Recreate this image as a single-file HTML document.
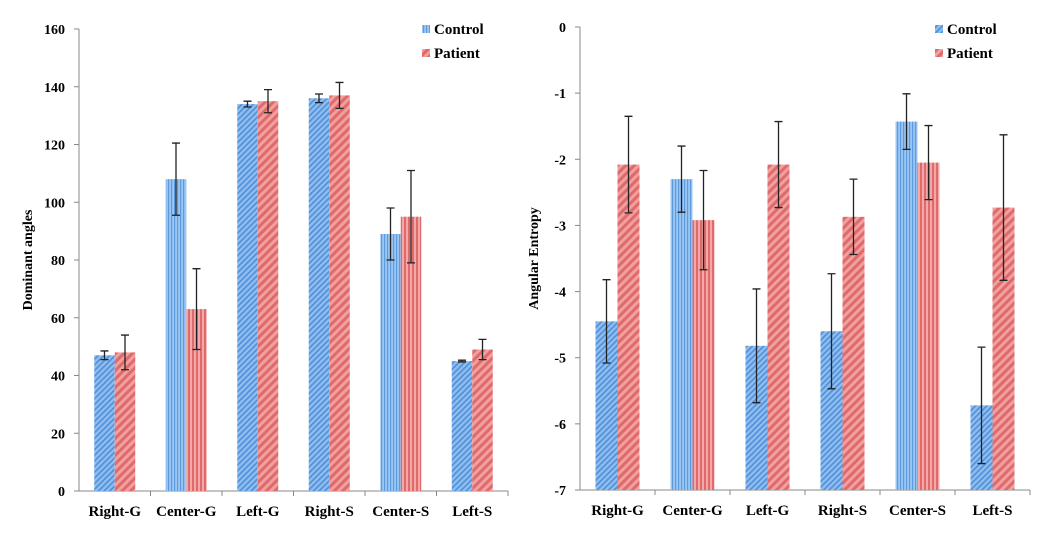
<!DOCTYPE html>
<html><head><meta charset="utf-8"><style>
html,body{margin:0;padding:0;background:#fff;}
svg{display:block;font-family:"Liberation Serif",serif;font-weight:bold;}
</style></head><body>
<svg id="c" width="1040" height="539">
<defs>
<pattern id="bd" width="4" height="4" patternUnits="userSpaceOnUse" patternTransform="rotate(45)"><rect width="4" height="4" fill="#8fbdf0"/><rect width="1.6" height="4" fill="#4f8fd8"/></pattern>
<pattern id="bv" width="3" height="4" patternUnits="userSpaceOnUse"><rect width="3" height="4" fill="#9cc6f2"/><rect width="1.2" height="4" fill="#5d9be0"/></pattern>
<pattern id="rd" width="6" height="6" patternUnits="userSpaceOnUse" patternTransform="rotate(45)"><rect width="6" height="6" fill="#f0a0a0"/><rect width="3" height="6" fill="#e06a6a"/></pattern>
<pattern id="rv" width="4" height="4" patternUnits="userSpaceOnUse"><rect width="4" height="4" fill="#f2a8a8"/><rect width="2" height="4" fill="#e06a6a"/></pattern>
</defs>
</svg>
<script>
const categories=["Right-G","Center-G","Left-G","Right-S","Center-S","Left-S"];
const leftControl=[47,108,134,136,89,45];
const leftControlErr=[1.5,12.5,1,1.5,9,0.3];
const leftPatient=[48,63,135,137,95,49];
const leftPatientErr=[6,14,4,4.5,16,3.5];
const leftTicks=[0,20,40,60,80,100,120,140,160];
const rightControl=[-4.45,-2.3,-4.82,-4.6,-1.43,-5.72];
const rightControlErr=[0.63,0.5,0.86,0.87,0.42,0.88];
const rightPatient=[-2.08,-2.92,-2.08,-2.87,-2.05,-2.73];
const rightPatientErr=[0.73,0.75,0.65,0.57,0.56,1.1];
const rightTicks=[0,-1,-2,-3,-4,-5,-6,-7];
const svg=document.getElementById('c');
const NS='http://www.w3.org/2000/svg';
function mk(tag,attrs,parent){const e=document.createElementNS(NS,tag);for(const k in attrs)e.setAttribute(k,attrs[k]);(parent||svg).appendChild(e);return e;}
function chart(o){
  const y=v=>o.y0+(v-o.vmin)/(o.vmax-o.vmin)*(o.y1-o.y0);
  const g=mk('g',{});
  
  
  const ax=mk('line',{x1:o.x0,x2:o.x0,y1:o.y1,y2:o.y0,stroke:'#888','stroke-width':1},g);
  
  
  const xa=mk('line',{x1:o.x0,x2:o.x0+o.step*categories.length,y1:o.y0,y2:o.y0,stroke:'#888','stroke-width':1},g);
  
  
  o.ticks.forEach(t=>{
    mk('line',{x1:o.x0-5,x2:o.x0,y1:y(t),y2:y(t),stroke:'#888'},g);
    const tx=mk('text',{x:o.x0-14,y:y(t)+5,'text-anchor':'end','font-size':14},g);
    tx.textContent=t;
    
    
  });
  categories.forEach((c,i)=>{
    const cx=o.x0+o.step*(i+0.5);
    mk('line',{x1:o.x0+o.step*(i+1),x2:o.x0+o.step*(i+1),y1:o.y0,y2:o.y0+5,stroke:'#888'},g);
    const tx=mk('text',{x:cx,y:o.y0+25,'text-anchor':'middle','font-size':15},g);
    tx.textContent=c;
    
    
    const vert=c.startsWith('Center');
    [[o.c,o.ce,vert?'bv':'bd',-1,'control'],[o.p,o.pe,vert?'rv':'rd',0,'patient']].forEach(s=>{
      const v=s[0][i],e=s[1][i],bx=cx+s[3]*o.bw;
      const top=y(v),base=y(o.vmin);
      const r=mk('rect',{x:bx,y:top,width:o.bw,height:base-top,fill:'url(#'+s[2]+')'},g);
      
      
      const ex=bx+o.bw/2;
      const eb=mk('path',{d:`M${ex},${y(v+e)}V${y(v-e)}M${ex-4},${y(v+e)}H${ex+4}M${ex-4},${y(v-e)}H${ex+4}`,stroke:'#222','stroke-width':1.3,fill:'none'},g);
      
      
    });
  });
  const yt=mk('text',{x:0,y:0,transform:`translate(${o.tx},${(o.y0+o.y1)/2}) rotate(-90)`,'text-anchor':'middle','font-size':14},g);
  yt.textContent=o.title;
  
  
  [['Control',o.c===leftControl?'bv':'bd',0],['Patient','rd',24]].forEach(l=>{
    mk('rect',{x:o.lx,y:o.ly+l[2]-9,width:8,height:8,fill:'url(#'+l[1]+')'},g);
    const t=mk('text',{x:o.lx+12,y:o.ly+l[2],'font-size':15},g);
    t.textContent=l[0];
    
    
  });
}
chart({name:'dominant-angles-chart',x0:79,step:71.5,y0:491,y1:29,vmin:0,vmax:160,bw:20.5,ticks:leftTicks,c:leftControl,ce:leftControlErr,p:leftPatient,pe:leftPatientErr,title:'Dominant angles',tx:32,lx:422,ly:34});
chart({name:'angular-entropy-chart',x0:580,step:75,y0:490,y1:27,vmin:-7,vmax:0,bw:22,ticks:rightTicks,c:rightControl,ce:rightControlErr,p:rightPatient,pe:rightPatientErr,title:'Angular Entropy',tx:538,lx:935,ly:34});
</script>
</body></html>
